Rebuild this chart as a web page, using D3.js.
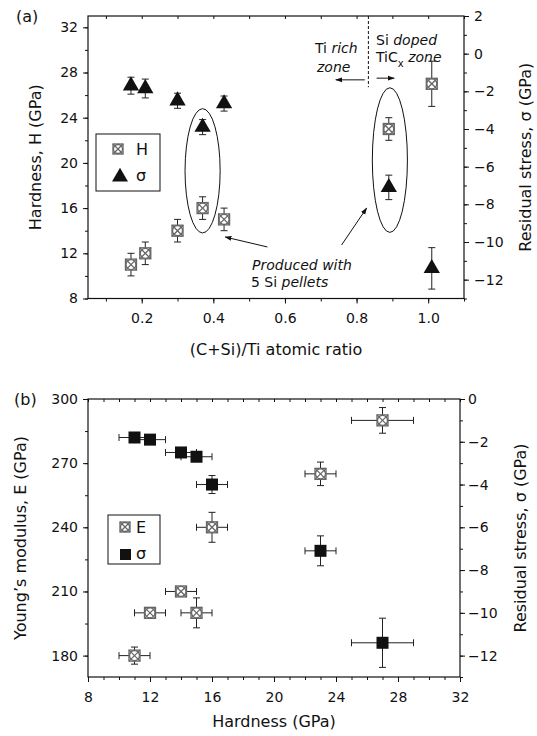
<!DOCTYPE html>
<html>
<head>
<meta charset="utf-8">
<script src="https://cdn.jsdelivr.net/npm/d3@7"></script>
<style>
body { margin: 0; background: #fff; }
svg { display: block; font-family: "DejaVu Sans", sans-serif; }
</style>
</head>
<body>
<script>
// panel (a): hardness and stress vs (C+Si)/Ti ratio
const ratioA = [0.17, 0.21, 0.30, 0.37, 0.43, 0.89, 1.01]
const hardnessA = [11, 12, 14, 16, 15, 23, 27]
const hardnessErrA = [1, 1, 1, 1, 1, 1, 2]
const stressA = [-1.7, -1.85, -2.5, -3.9, -2.65, -7.1, -11.4]
const stressErrA = [0.45, 0.5, 0.4, 0.4, 0.4, 0.65, 1.1]

// panel (b): modulus and stress vs hardness
const hardnessB = [11, 12, 14, 15, 16, 23, 27]
const hardnessErrB = [1, 1, 1, 1, 1, 1, 2]
const modulusB = [180, 200, 210, 200, 240, 265, 290]
const modulusErrB = [4, 2, 2, 7, 7, 5.5, 6]
const stressB = [-1.8, -1.9, -2.5, -2.7, -4.0, -7.1, -11.4]
const stressErrB = [0.2, 0.2, 0.2, 0.2, 0.42, 0.7, 1.15]

const ticksXA = [0.2, 0.4, 0.6, 0.8, 1.0]
const ticksLA = [8, 12, 16, 20, 24, 28, 32]
const ticksRA = [2, 0, -2, -4, -6, -8, -10, -12]
const ticksXB = [8, 12, 16, 20, 24, 28, 32]
const ticksLB = [180, 210, 240, 270, 300]
const ticksRB = [0, -2, -4, -6, -8, -10, -12]

const width = 537, height = 736
const ink = "#111", markGrey = "#666"

const svg = d3.select("body").append("svg")
    .attr("width", width)
    .attr("height", height)

svg.append("defs").append("marker")
    .attr("id", "head")
    .attr("viewBox", "0 0 10 10")
    .attr("refX", 9).attr("refY", 5)
    .attr("markerWidth", 7).attr("markerHeight", 7)
    .attr("markerUnits", "userSpaceOnUse")
    .attr("orient", "auto")
    .append("path")
    .attr("d", "M0,1.5 L10,5 L0,8.5 Z")
    .attr("fill", ink)

function minorValues(domain, step) {
    const out = []
    for (let v = Math.ceil(domain[0] / step) * step; v <= domain[1] + 1e-9; v += step) out.push(+v.toFixed(4))
    return out
}

function drawFrame(p) {
    const g = svg.append("g")
    const {x, yL, yR, box} = p

    // minor ticks
    g.append("g").attr("transform", `translate(0,${box.bottom})`)
        .call(d3.axisBottom(x).tickValues(minorValues(x.domain(), p.xMinor)).tickSize(3).tickFormat(""))
    g.append("g").attr("transform", `translate(0,${box.top})`)
        .call(d3.axisBottom(x).tickValues(minorValues(x.domain(), p.xMinor)).tickSize(3).tickFormat(""))
    g.append("g").attr("transform", `translate(${box.left},0)`)
        .call(d3.axisLeft(yL).tickValues(minorValues(yL.domain(), p.lMinor)).tickSize(3).tickFormat(""))
    g.append("g").attr("transform", `translate(${box.right},0)`)
        .call(d3.axisRight(yR).tickValues(minorValues(yR.domain(), p.rMinor)).tickSize(3).tickFormat(""))

    // major ticks + labels
    g.append("g").attr("transform", `translate(0,${box.bottom})`)
        .call(d3.axisBottom(x).tickValues(p.xTicks).tickSize(5).tickPadding(10).tickFormat(p.xFormat))
    g.append("g").attr("transform", `translate(${box.left},0)`)
        .call(d3.axisLeft(yL).tickValues(p.lTicks).tickSize(5).tickPadding(5))
    g.append("g").attr("transform", `translate(${box.right},0)`)
        .call(d3.axisRight(yR).tickValues(p.rTicks).tickSize(5).tickPadding(p.rPad).tickFormat(d3.format("d")))

    g.selectAll(".domain").remove()
    g.selectAll(".tick line").attr("stroke", ink)
    g.selectAll(".tick text").attr("font-size", 14).attr("fill", ink).attr("font-family", "DejaVu Sans, sans-serif")

    g.append("rect")
        .attr("x", box.left).attr("y", box.top)
        .attr("width", box.right - box.left).attr("height", box.bottom - box.top)
        .attr("fill", "none").attr("stroke", ink).attr("stroke-width", 1.2)

    const midY = (box.top + box.bottom) / 2
    g.append("text")
        .attr("x", (box.left + box.right) / 2).attr("y", p.xTitleY)
        .attr("text-anchor", "middle").attr("font-size", 16).attr("fill", ink)
        .text(p.xTitle)
    g.append("text")
        .attr("transform", `translate(${p.lTitleX},${midY}) rotate(-90)`)
        .attr("text-anchor", "middle").attr("font-size", 16).attr("fill", ink)
        .text(p.lTitle)
    g.append("text")
        .attr("transform", `translate(${p.rTitleX},${midY}) rotate(-90)`)
        .attr("text-anchor", "middle").attr("font-size", 16).attr("fill", ink)
        .text(p.rTitle)
    g.append("text")
        .attr("x", p.tag[0]).attr("y", p.tag[1])
        .attr("font-size", 16).attr("fill", ink)
        .text(p.tagText)
}

function crossMark(g, cx, cy, s) {
    const h = s / 2
    const m = g.append("g").attr("transform", `translate(${cx},${cy})`)
        .attr("stroke", markGrey).attr("stroke-width", 1.3).attr("fill", "none")
    m.append("rect").attr("x", -h).attr("y", -h).attr("width", s).attr("height", s).attr("fill", "#fff")
    m.append("circle").attr("r", h - 0.5)
    m.append("line").attr("x1", -h).attr("y1", -h).attr("x2", h).attr("y2", h)
    m.append("line").attr("x1", -h).attr("y1", h).attr("x2", h).attr("y2", -h)
}

function errBars(g, xs, ys, xScale, yScale, yErr, xErr) {
    const cap = 3.5
    const bars = g.append("g").attr("stroke", "#222").attr("stroke-width", 1)
    xs.forEach((xv, i) => {
        const cx = xScale(xv), cy = yScale(ys[i])
        if (yErr) {
            const y0 = yScale(ys[i] - yErr[i]), y1 = yScale(ys[i] + yErr[i])
            bars.append("line").attr("x1", cx).attr("x2", cx).attr("y1", y0).attr("y2", y1)
            bars.append("line").attr("x1", cx - cap).attr("x2", cx + cap).attr("y1", y0).attr("y2", y0)
            bars.append("line").attr("x1", cx - cap).attr("x2", cx + cap).attr("y1", y1).attr("y2", y1)
        }
        if (xErr) {
            const x0 = xScale(xv - xErr[i]), x1 = xScale(xv + xErr[i])
            bars.append("line").attr("y1", cy).attr("y2", cy).attr("x1", x0).attr("x2", x1)
            bars.append("line").attr("y1", cy - cap).attr("y2", cy + cap).attr("x1", x0).attr("x2", x0)
            bars.append("line").attr("y1", cy - cap).attr("y2", cy + cap).attr("x1", x1).attr("x2", x1)
        }
    })
}

// ---------------- panel (a)
const boxA = {left: 88, right: 464, top: 16, bottom: 298.5}
const xA = d3.scaleLinear().domain([0.05, 1.1]).range([boxA.left, boxA.right])
const hA = d3.scaleLinear().domain([8, 33]).range([boxA.bottom, boxA.top])
const sA = d3.scaleLinear().domain([-13, 2]).range([boxA.bottom, boxA.top])

drawFrame({
    box: boxA, x: xA, yL: hA, yR: sA,
    xMinor: 0.1, lMinor: 2, rMinor: 1,
    xTicks: ticksXA, lTicks: ticksLA, rTicks: ticksRA,
    xFormat: d3.format(".1f"), rPad: 5,
    xTitle: "(C+Si)/Ti atomic ratio", xTitleY: 355,
    lTitle: "Hardness, H (GPa)", lTitleX: 41,
    rTitle: "Residual stress, σ (GPa)", rTitleX: 531,
    tag: [16, 22], tagText: "(a)"
})

const gA = svg.append("g")

// annotation: zone divider
gA.append("line")
    .attr("x1", xA(0.833)).attr("x2", xA(0.833))
    .attr("y1", hA(33)).attr("y2", hA(26.7))
    .attr("stroke", ink).attr("stroke-dasharray", "3,2")
gA.append("line")
    .attr("x1", xA(0.823)).attr("x2", xA(0.742))
    .attr("y1", hA(27.35)).attr("y2", hA(27.35))
    .attr("stroke", ink).attr("marker-end", "url(#head)")
gA.append("line")
    .attr("x1", xA(0.856)).attr("x2", xA(0.905))
    .attr("y1", hA(27.5)).attr("y2", hA(27.5))
    .attr("stroke", ink).attr("marker-end", "url(#head)")

const tiRich = gA.append("text").attr("x", 315).attr("y", 53).attr("font-size", 14).attr("fill", ink)
tiRich.append("tspan").text("Ti ")
tiRich.append("tspan").attr("font-style", "italic").text("rich")
gA.append("text").attr("x", 317).attr("y", 72).attr("font-size", 14).attr("fill", ink)
    .attr("font-style", "italic").text("zone")

const siDoped = gA.append("text").attr("x", 376).attr("y", 45).attr("font-size", 14).attr("fill", ink)
siDoped.append("tspan").text("Si ")
siDoped.append("tspan").attr("font-style", "italic").text("doped")
const tic = gA.append("text").attr("x", 376).attr("y", 62).attr("font-size", 14).attr("fill", ink)
tic.append("tspan").text("TiC")
tic.append("tspan").attr("font-size", 10).attr("dy", 5).text("x")
tic.append("tspan").attr("dy", -5).attr("font-style", "italic").text(" zone")

// ellipses around 5 Si pellet samples
gA.append("ellipse")
    .attr("cx", xA(0.37)).attr("cy", hA(19.3))
    .attr("rx", xA(0.37) - xA(0.321)).attr("ry", hA(8) - hA(13.5))
    .attr("fill", "none").attr("stroke", ink)
gA.append("ellipse")
    .attr("cx", xA(0.893)).attr("cy", hA(20.25))
    .attr("rx", xA(0.893) - xA(0.844)).attr("ry", hA(8) - hA(14.4))
    .attr("fill", "none").attr("stroke", ink)

gA.append("line")
    .attr("x1", xA(0.551)).attr("y1", hA(12.56)).attr("x2", xA(0.433)).attr("y2", hA(13.44))
    .attr("stroke", ink).attr("marker-end", "url(#head)")
gA.append("line")
    .attr("x1", xA(0.758)).attr("y1", hA(12.73)).attr("x2", xA(0.828)).attr("y2", hA(16.0))
    .attr("stroke", ink).attr("marker-end", "url(#head)")

const prod = gA.append("text").attr("font-size", 14).attr("fill", ink).attr("font-style", "italic")
prod.append("tspan").attr("x", 252).attr("y", 270).text("Produced with")
const pel = prod.append("tspan").attr("x", 251).attr("y", 287)
pel.append("tspan").attr("font-style", "normal").text("5 Si ")
pel.append("tspan").text("pellets")

// marks
errBars(gA, ratioA, hardnessA, xA, hA, hardnessErrA)
errBars(gA, ratioA, stressA, xA, sA, stressErrA)

ratioA.forEach((r, i) => crossMark(gA, xA(r), hA(hardnessA[i]), 11))

gA.selectAll(".tri")
    .data(ratioA)
    .enter()
    .append("path")
    .attr("d", d3.symbol(d3.symbolTriangle, 115))
    .attr("transform", (d, i) => `translate(${xA(d)},${sA(stressA[i])})`)
    .attr("fill", ink)

// legend (a)
const legA = gA.append("g")
legA.append("rect").attr("x", 96).attr("y", 134).attr("width", 64).attr("height", 57)
    .attr("fill", "#fff").attr("stroke", ink)
crossMark(legA, 118, 149, 10)
legA.append("text").attr("x", 136).attr("y", 155).attr("font-size", 16).attr("fill", ink).text("H")
legA.append("path").attr("d", d3.symbol(d3.symbolTriangle, 110))
    .attr("transform", "translate(120,177)").attr("fill", ink)
legA.append("text").attr("x", 136).attr("y", 181).attr("font-size", 16).attr("fill", ink).text("σ")

// ---------------- panel (b)
const boxB = {left: 88, right: 460, top: 399, bottom: 677}
const xB = d3.scaleLinear().domain([8, 32]).range([boxB.left, boxB.right])
const eB = d3.scaleLinear().domain([170, 300]).range([boxB.bottom, boxB.top])
const sB = d3.scaleLinear().domain([-13, 0]).range([boxB.bottom, boxB.top])

drawFrame({
    box: boxB, x: xB, yL: eB, yR: sB,
    xMinor: 1, lMinor: 15, rMinor: 1,
    xTicks: ticksXB, lTicks: ticksLB, rTicks: ticksRB,
    xFormat: d3.format("d"), rPad: 3,
    xTitle: "Hardness (GPa)", xTitleY: 727,
    lTitle: "Young’s modulus, E (GPa)", lTitleX: 26,
    rTitle: "Residual stress, σ (GPa)", rTitleX: 526,
    tag: [14, 405], tagText: "(b)"
})

const gB = svg.append("g")

errBars(gB, hardnessB, modulusB, xB, eB, modulusErrB, hardnessErrB)
errBars(gB, hardnessB, stressB, xB, sB, stressErrB, hardnessErrB)

hardnessB.forEach((h, i) => crossMark(gB, xB(h), eB(modulusB[i]), 11))

gB.selectAll(".sq")
    .data(hardnessB)
    .enter()
    .append("rect")
    .attr("x", d => xB(d) - 6)
    .attr("y", (d, i) => sB(stressB[i]) - 6)
    .attr("width", 12).attr("height", 12)
    .attr("fill", ink)

// legend (b)
const legB = gB.append("g")
legB.append("rect").attr("x", 108).attr("y", 515).attr("width", 52).attr("height", 49)
    .attr("fill", "#fff").attr("stroke", ink)
crossMark(legB, 125, 527, 10)
legB.append("text").attr("x", 136).attr("y", 533).attr("font-size", 16).attr("fill", ink).text("E")
legB.append("rect").attr("x", 120).attr("y", 549).attr("width", 11).attr("height", 11).attr("fill", ink)
legB.append("text").attr("x", 136).attr("y", 559).attr("font-size", 16).attr("fill", ink).text("σ")
</script>
</body>
</html>
